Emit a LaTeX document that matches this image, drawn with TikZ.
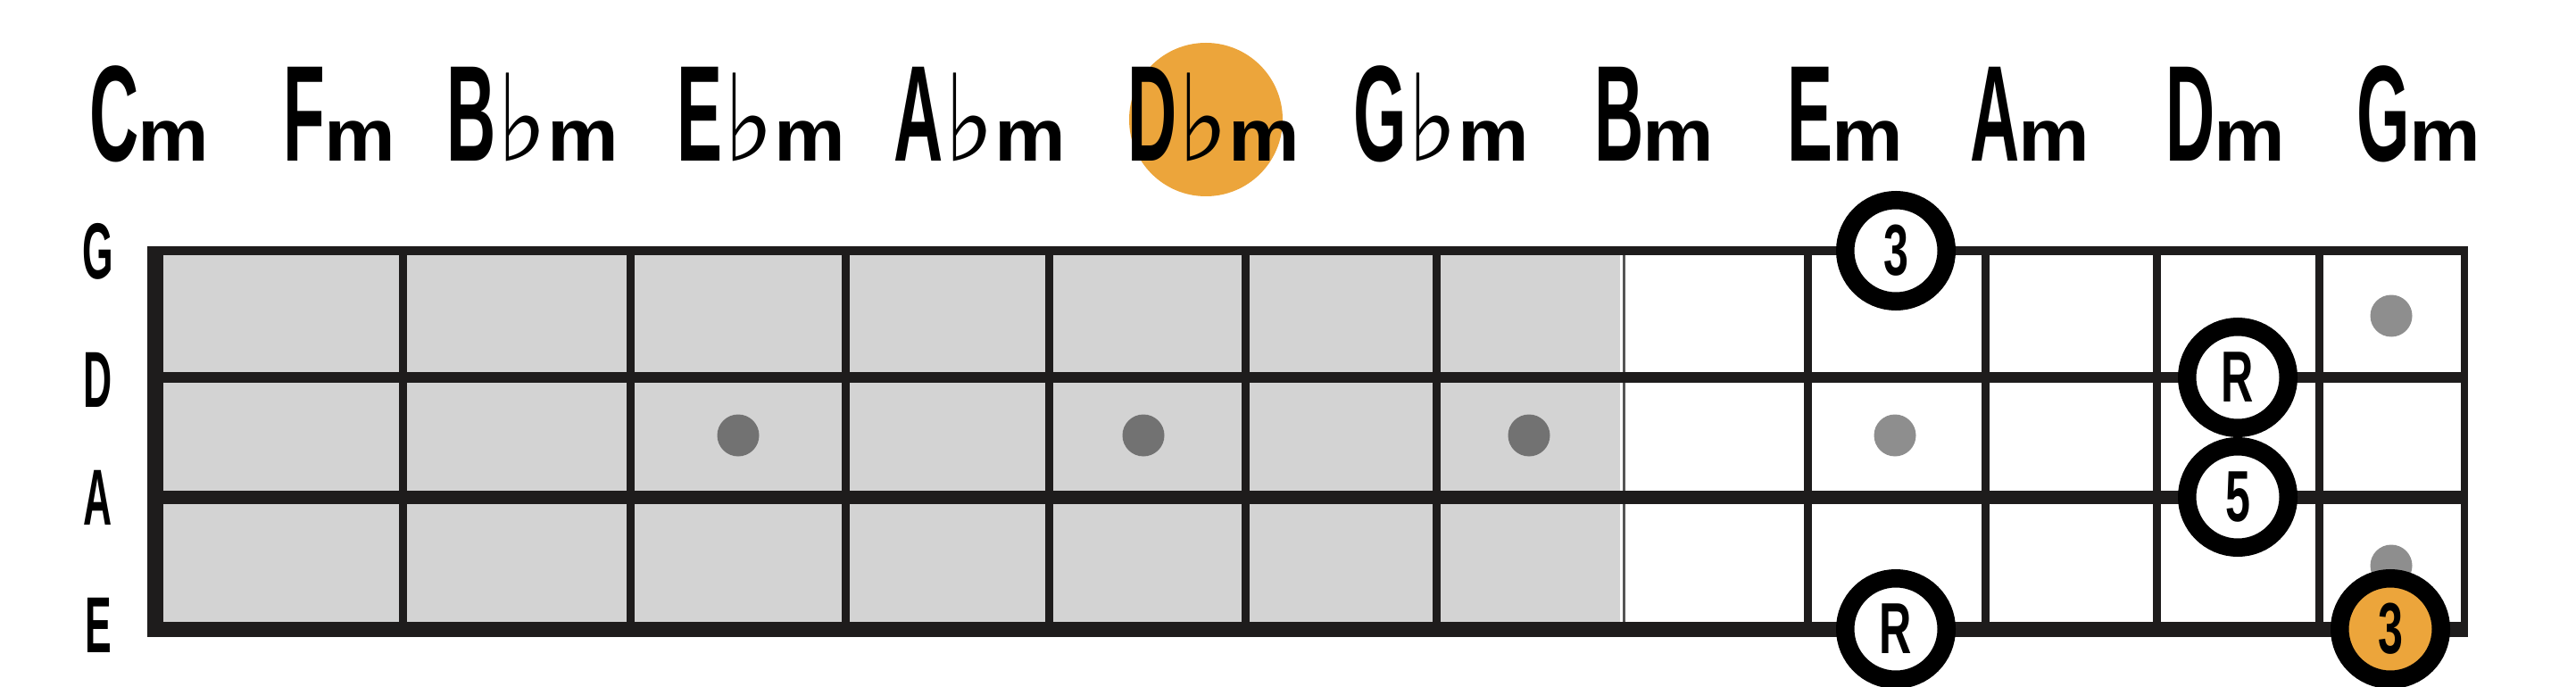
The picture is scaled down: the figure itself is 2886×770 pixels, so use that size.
\documentclass[tikz,border=0pt]{standalone}
\usepackage{fontspec}
\newfontfamily\capf[FakeStretch=0.5]{Liberation Sans}
\newfontfamily\circf[FakeStretch=0.62]{Liberation Sans}
\newfontfamily\mf[FakeStretch=1.08]{Liberation Sans}
\newfontfamily\flatf[FakeStretch=0.9]{DejaVu Sans}
\definecolor{ink}{HTML}{1E1C1C}
\definecolor{board}{HTML}{D3D3D3}
\definecolor{dotdk}{HTML}{727272}
\definecolor{dotlt}{HTML}{8E8E8E}
\definecolor{orng}{HTML}{ECA53B}
\definecolor{divgray}{HTML}{555555}
\newcommand\CL[1]{{\capf\bfseries\fontsize{153}{153}\selectfont #1}}
\newcommand\FL{{\flatf\fontsize{135}{135}\selectfont ♭}}
\newcommand\ML{{\mf\bfseries\fontsize{83}{83}\selectfont m}}
\newcommand\circfont{\circf\bfseries\fontsize{81}{81}\selectfont}
\newcommand\strfont{\capf\bfseries\fontsize{89}{89}\selectfont}
\begin{document}
\begin{tikzpicture}[x=1pt,y=-1pt,
  fretline/.style={draw=ink, line width=9pt},
  stringline/.style={draw=ink},
  dotdark/.style={circle, fill=dotdk, minimum size=47pt, inner sep=0pt},
  dotlight/.style={circle, fill=dotlt, minimum size=47pt, inner sep=0pt},
  ringnode/.style={circle, draw=black, line width=20.5pt, fill=white, minimum size=113.5pt, inner sep=0pt, font=\circfont},
  ringorange/.style={ringnode, fill=orng},
  chordlbl/.style={anchor=base, inner sep=0pt},
  strlbl/.style={inner sep=0pt, font=\strfont}]
\useasboundingbox (0,0) rectangle (2886,770);
\fill[white] (0,0) rectangle (2886,770);
% gray part of the board
\fill[board] (183,281) rectangle (1815,705);
% frets
\foreach \fx in {451,706,947,1175,1395,1609,2025,2224,2416,2598}
  \draw[fretline] (\fx,281) -- (\fx,705);
\draw[divgray, line width=3pt] (1819,277) -- (1819,708);
% strings
\draw[stringline, line width=10pt] (165,281) -- (2765,281);
\draw[stringline, line width=12pt] (165,423) -- (2765,423);
\draw[stringline, line width=15pt] (165,557) -- (2765,557);
\draw[stringline, line width=17pt] (165,705) -- (2765,705);
% borders
\draw[ink, line width=18pt] (174,276) -- (174,713.5);
\draw[ink, line width=8pt] (2761,276) -- (2761,713.5);
% string names
\node[strlbl] (sG) at (110,282) {G};
\node[strlbl] (sD) at (110,426) {D};
\node[strlbl] (sA) at (110,558) {A};
\node[strlbl] (sE) at (110,701) {E};
% inlay dots
\node[dotdark] (d1) at (827,488) {};
\node[dotdark] (d2) at (1281,488) {};
\node[dotdark] (d3) at (1713,488) {};
\node[dotlight] (d4) at (2123,488) {};
\node[dotlight] (d5) at (2679,354) {};
\node[dotlight] (d6) at (2679,634) {};
% chord tones
\node[ringnode] (t3) at (2124,281) {3};
\node[ringnode] (tR1) at (2507,423) {R};
\node[ringnode] (t5) at (2507,557) {5};
\node[ringnode] (tR2) at (2124,705) {R};
\node[ringorange] (t3o) at (2678,705) {3};
% highlight behind Dbm
\node[circle, fill=orng, minimum size=172pt, inner sep=0pt] (hl) at (1351,134) {};
% chord names
\node[chordlbl] (cCm) at (167,181) {\CL{C}\kern-1pt\ML};
\node[chordlbl] (cFm) at (380,181) {\CL{F}\kern-1pt\ML};
\node[chordlbl] (cBbm) at (597,181) {\CL{B}\kern0pt\FL\kern0pt\ML};
\node[chordlbl] (cEbm) at (853,181) {\CL{E}\kern0pt\FL\kern0pt\ML};
\node[chordlbl] (cAbm) at (1098,181) {\CL{A}\kern0pt\FL\kern0pt\ML};
\node[chordlbl] (cDbm) at (1360,181) {\CL{D}\kern0pt\FL\kern0pt\ML};
\node[chordlbl] (cGbm) at (1615,181) {\CL{G}\kern0pt\FL\kern0pt\ML};
\node[chordlbl] (cBm) at (1853,181) {\CL{B}\kern-1pt\ML};
\node[chordlbl] (cEm) at (2067,181) {\CL{E}\kern-1pt\ML};
\node[chordlbl] (cAm) at (2274,181) {\CL{A}\kern-1pt\ML};
\node[chordlbl] (cDm) at (2493,181) {\CL{D}\kern-1pt\ML};
\node[chordlbl] (cGm) at (2710,181) {\CL{G}\kern-1pt\ML};
\end{tikzpicture}
\end{document}
